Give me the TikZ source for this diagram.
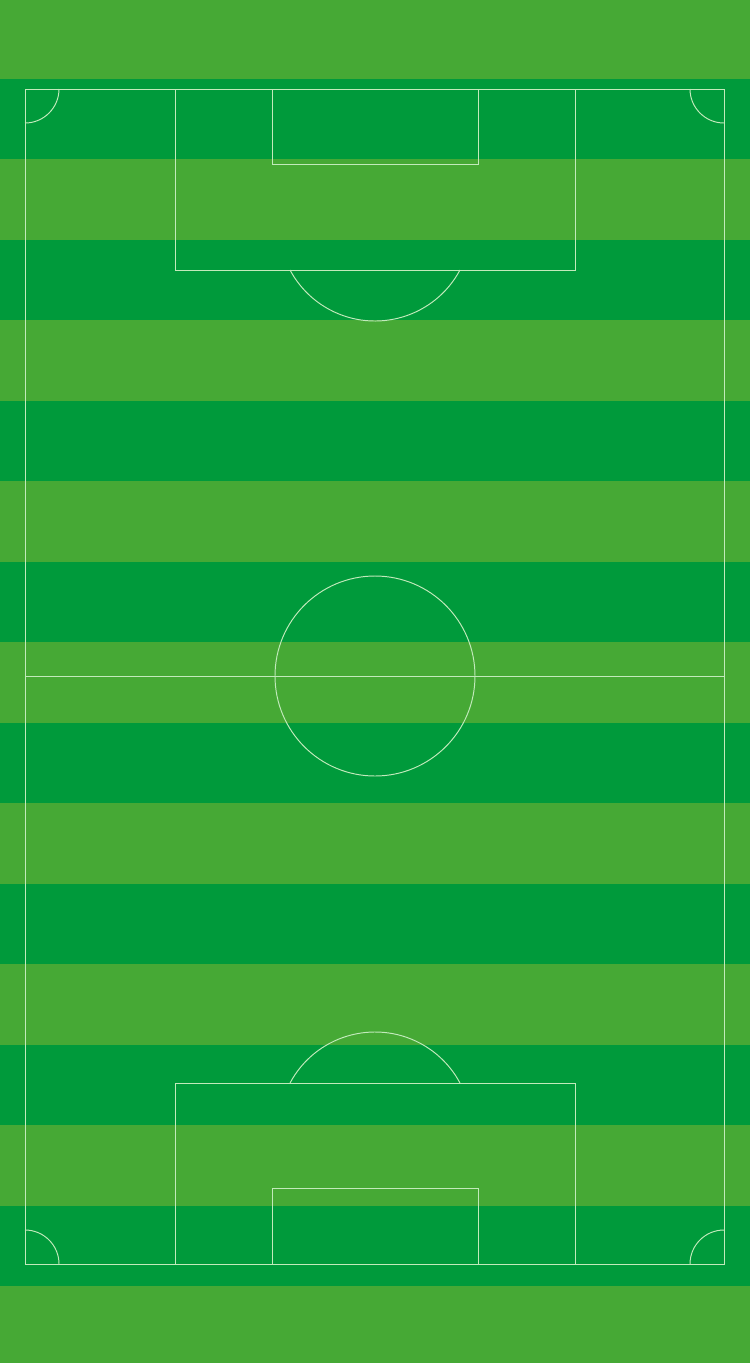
\documentclass[tikz,border=0pt]{standalone}
\usepackage{xcolor}
\usepackage{tikz}
\definecolor{grasslight}{HTML}{46A935}
\definecolor{grassdark}{HTML}{009A3B}
\definecolor{chalk}{HTML}{C2EABB}
\begin{document}
\begin{tikzpicture}[
x=0.02cm,y=-0.02cm,
stripe/.style={fill=grassdark,draw=none},
pitchline/.style={draw=chalk,line width=0.55pt}
]
\useasboundingbox (0,0) rectangle (750,1363);
\fill[grasslight] (0,0) rectangle (750,1363);
% mowing stripes
\foreach \i in {0,...,7}
  \fill[stripe] (0,{79+2*\i*80.47}) rectangle (750,{79+(2*\i+1)*80.47});
% pitch markings
\coordinate (tl) at (25,89);
\coordinate (br) at (724,1264);
\coordinate (centre) at (375,676);
\coordinate (topspot) at (375,224.7);
\coordinate (botspot) at (375,1128.3);
\draw[pitchline] (tl) rectangle (br);
\draw[pitchline] (25,676) -- (724,676);
\draw[pitchline] (centre) circle[radius=100];
% top end
\draw[pitchline] (175,89) rectangle (575,270);
\draw[pitchline] (272,89) rectangle (478,164);
\draw[pitchline] (topspot) ++(28.1:96.3) arc[start angle=28.1,end angle=151.9,radius=96.3];
% bottom end
\draw[pitchline] (175,1264) rectangle (575,1083);
\draw[pitchline] (272,1264) rectangle (478,1188);
\draw[pitchline] (botspot) ++(208.1:96.3) arc[start angle=208.1,end angle=331.9,radius=96.3];
% corner arcs
\draw[pitchline] (59,89) arc[start angle=0,end angle=90,radius=34];
\draw[pitchline] (724,123) arc[start angle=90,end angle=180,radius=34];
\draw[pitchline] (25,1230) arc[start angle=270,end angle=360,radius=34];
\draw[pitchline] (690,1264) arc[start angle=180,end angle=270,radius=34];
\end{tikzpicture}
\end{document}
